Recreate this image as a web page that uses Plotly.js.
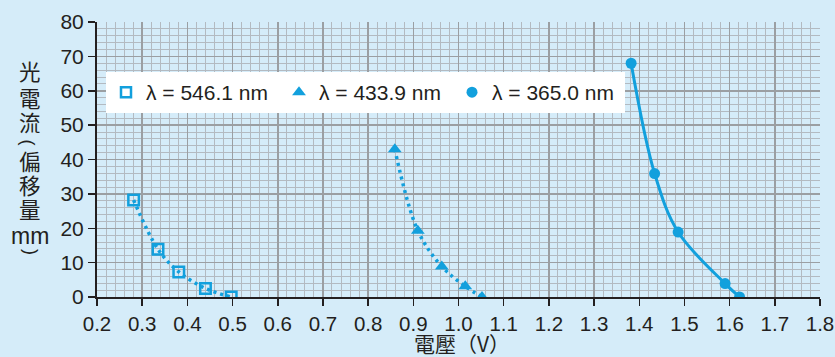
<!DOCTYPE html>
<html>
<head>
<meta charset="utf-8">
<script src="https://cdn.plot.ly/plotly-3.0.1.min.js"></script>
<style>
html,body{margin:0;padding:0;background:#d5ecf9;}
#chart{width:835px;height:357px;}
</style>
</head>
<body>
<div id="chart"></div>
<script>
// Data
const voltage546 = [0.281, 0.335, 0.381, 0.440, 0.497];
const current546 = [28.2, 13.9, 7.3, 2.5, 0];
const voltage434 = [0.859, 0.910, 0.963, 1.015, 1.052];
const current434 = [43, 19.3, 8.9, 3.1, 0];
const voltage365 = [1.382, 1.434, 1.486, 1.590, 1.622];
const current365 = [68, 35.9, 18.9, 3.9, 0];
const seriesNames = ['λ = 546.1 nm', 'λ = 433.9 nm', 'λ = 365.0 nm'];
const xTitle = '電壓（V）';
const yTitleParts = ['光', '電', '流', '(', '偏', '移', '量', 'mm', ')'];

const blue = '#12a0dd';
const ink = '#231f20';
const bg = '#d5ecf9';
const font = 'Liberation Sans, Arial, sans-serif';
const cjk = 'Noto Sans CJK TC, Noto Sans CJK SC, sans-serif';

const traces = [
  {x: voltage546, y: current546, mode: 'lines+markers', showlegend: false,
   line: {color: blue, width: 3.5, dash: '3px,4px', shape: 'spline'},
   marker: {symbol: 'square-open', size: 10.5, color: blue, line: {width: 2.5, color: blue}}},
  {x: voltage434, y: current434, mode: 'lines+markers', showlegend: false,
   line: {color: blue, width: 3.5, dash: '3px,4px', shape: 'spline'},
   marker: {symbol: 'triangle-up', size: 12, color: blue}},
  {x: voltage365, y: current365, mode: 'lines+markers', showlegend: false,
   line: {color: blue, width: 3, shape: 'spline'},
   marker: {symbol: 'circle', size: 11, color: blue}},
  // legend entries
  {x: [null], y: [null], mode: 'markers', name: seriesNames[0],
   marker: {symbol: 'square-open', size: 10, color: blue, line: {width: 2.5, color: blue}}},
  {x: [null], y: [null], mode: 'markers', name: seriesNames[1],
   marker: {symbol: 'triangle-up', size: 12, color: blue}},
  {x: [null], y: [null], mode: 'markers', name: seriesNames[2],
   marker: {symbol: 'circle', size: 11, color: blue}}
];

const L = 97, R = 15, T = 22, B = 60;
const plotH = 357 - T - B;
const plotW = 835 - L - R;
const py = p => (357 - B - p) / plotH;
const px = p => (p - L) / plotW;

// vertical y-axis title, one glyph per line; parens rotated to arches
const yCenters = [70, 97.5, 121, 142, 161, 184, 208, 236, 251.5];
const xCenters = [30, 30, 30, 27.5, 30, 30, 30, 30, 30.5];
const annotations = yTitleParts.map((t, i) => {
  const isParen = (t === '(' || t === ')');
  const isLatin = isParen || t === 'mm';
  return {
    text: t, xref: 'paper', yref: 'paper', x: px(xCenters[i]), y: py(yCenters[i]),
    xanchor: 'center', yanchor: 'middle', showarrow: false,
    textangle: isParen ? 90 : 0,
    font: {family: isLatin ? font : cjk, size: isParen ? 18 : (t === 'mm' ? 23 : 21.5), color: ink}
  };
});
annotations.push({
  text: xTitle, xref: 'paper', yref: 'paper', x: px(462), y: py(343),
  xanchor: 'center', yanchor: 'middle', showarrow: false,
  font: {family: cjk, size: 21, color: ink}
});

const layout = {
  width: 835, height: 357,
  margin: {l: L, r: R, t: T, b: B},
  paper_bgcolor: bg, plot_bgcolor: bg,
  font: {family: font, size: 21, color: ink},
  xaxis: {
    range: [0.2, 1.8], dtick: 0.1, tick0: 0.2, tickformat: '.1f',
    showgrid: true, gridcolor: '#9b9fa3', gridwidth: 1.5,
    minor: {dtick: 0.02, showgrid: true, gridcolor: '#b3bac1', gridwidth: 1},
    showline: true, linecolor: ink, linewidth: 2,
    ticks: 'outside', ticklen: 7, tickwidth: 1.5, tickcolor: ink,
    zeroline: false,
    tickfont: {family: font, size: 20.5, color: ink}
  },
  yaxis: {
    range: [0, 80], dtick: 10,
    showgrid: true, gridcolor: '#9b9fa3', gridwidth: 1.5,
    minor: {dtick: 2, showgrid: true, gridcolor: '#b3bac1', gridwidth: 1},
    showline: true, linecolor: ink, linewidth: 2,
    ticks: 'outside', ticklen: 7, tickwidth: 1.5, tickcolor: ink,
    zeroline: false,
    tickfont: {family: font, size: 21, color: ink}
  },
  legend: {
    orientation: 'h', x: px(106), y: py(72), xanchor: 'left', yanchor: 'top',
    bgcolor: '#ffffff', borderwidth: 0,
    font: {family: font, size: 21, color: ink},
    entrywidth: 128, entrywidthmode: 'pixels', traceorder: 'normal'
  },
  annotations: annotations
};

Plotly.newPlot('chart', traces, layout, {displayModeBar: false, staticPlot: true});
</script>
</body>
</html>
